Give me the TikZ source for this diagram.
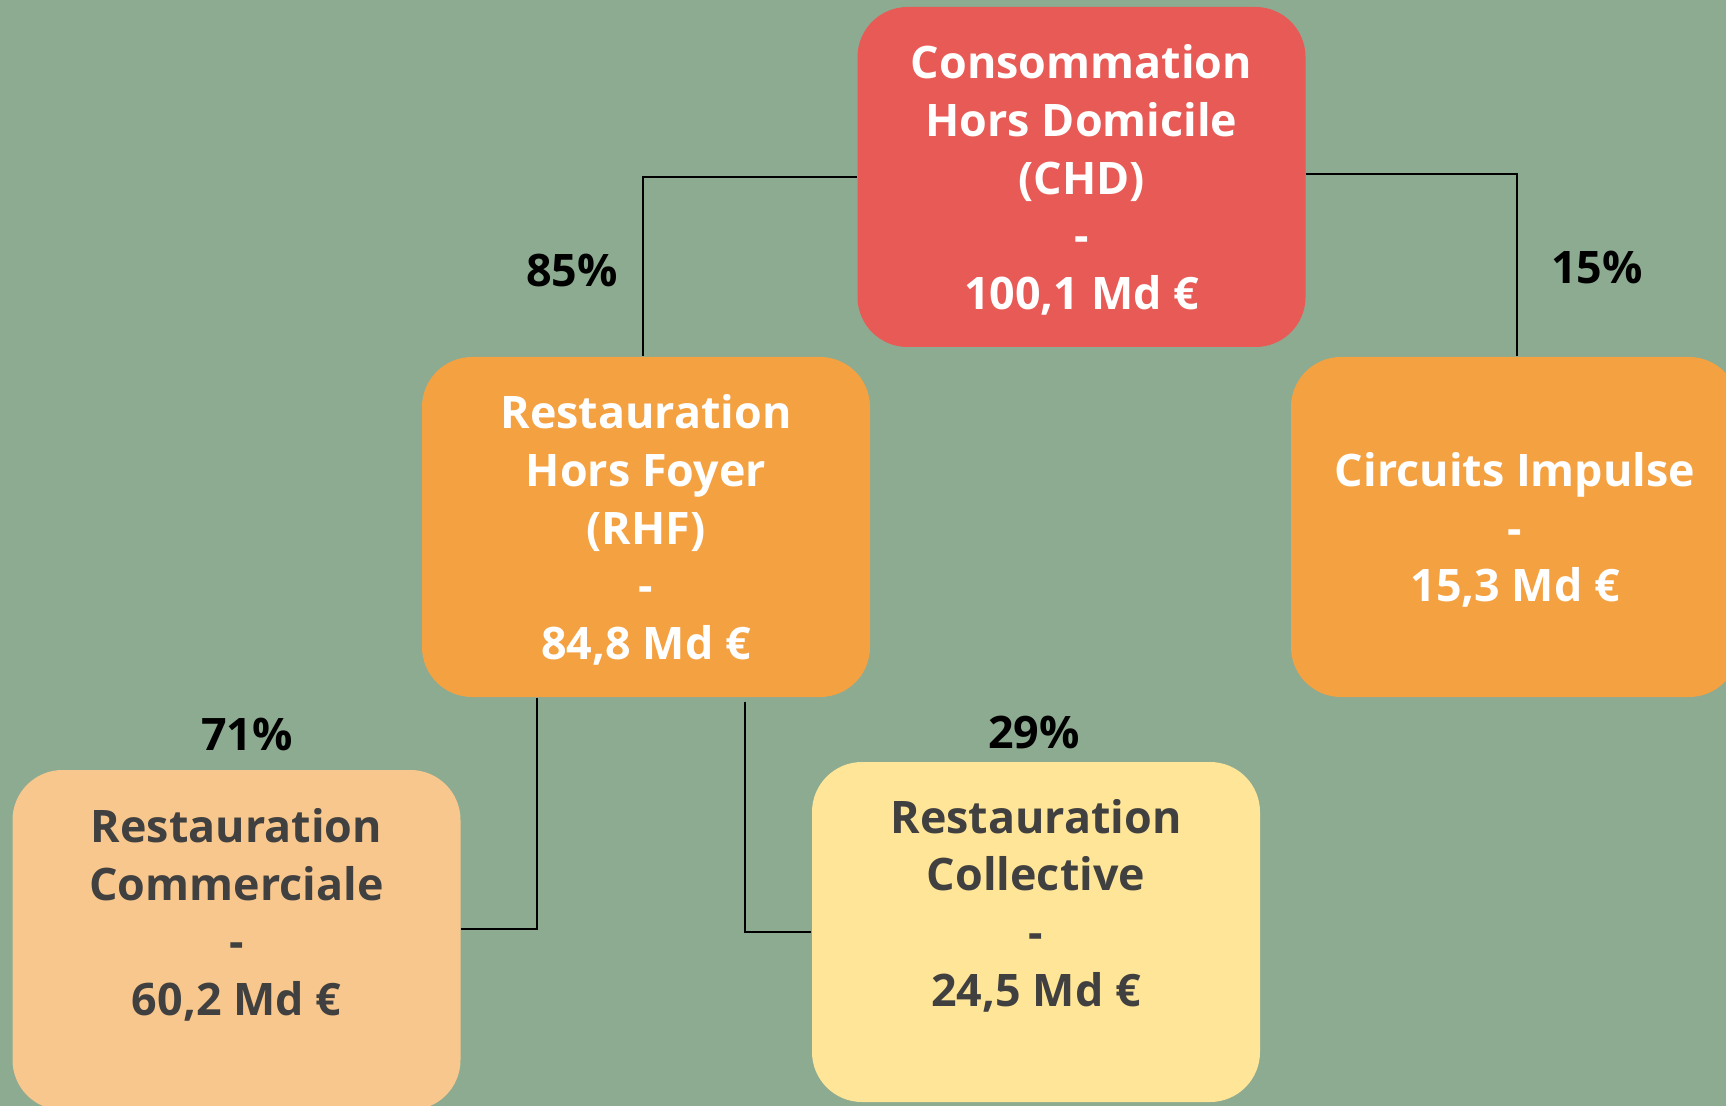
\documentclass[tikz,border=0pt]{standalone}
\usepackage{fontspec}
\setmainfont{Open Sans}
\definecolor{bgc}{HTML}{8DAB91}
\definecolor{redc}{HTML}{E85A55}
\definecolor{orc}{HTML}{F4A142}
\definecolor{peachc}{HTML}{F8C78D}
\definecolor{yelc}{HTML}{FFE597}
\definecolor{darkt}{HTML}{404040}
\begin{document}
\begin{tikzpicture}[x=1cm,y=1cm,
  box/.style={rounded corners=0.5cm, minimum width=4.48cm, minimum height=3.40cm, inner sep=0pt, draw=none},
  txt/.style={font=\fontsize{12.75}{16.4}\selectfont\bfseries, align=center, inner sep=0pt},
  pct/.style={font=\fontsize{12.75}{15}\selectfont\bfseries, text=black, inner sep=0pt},
  conn/.style={draw=black, line width=0.75pt}]
\useasboundingbox (0,0) rectangle (17.26,-11.06);
\fill[bgc] (0,0) rectangle (17.26,-11.06);

\node[box, fill=redc, label={[txt, text=white, yshift=-0.03cm]center:{Consommation\\Hors Domicile\\(CHD)\\-\\100,1 Md €}}] (chd) at (10.815,-1.77) {};
\node[box, fill=orc, label={[txt, text=white, yshift=-0.03cm]center:{Restauration\\Hors Foyer\\(RHF)\\-\\84,8 Md €}}] (rhf) at (6.46,-5.27) {};
\node[box, fill=orc, label={[txt, text=white, yshift=-0.03cm]center:{Circuits Impulse\\-\\15,3 Md €}}] (ci) at (15.15,-5.27) {};
\node[box, fill=peachc, label={[txt, text=darkt, yshift=0.25cm]center:{Restauration\\Commerciale\\-\\60,2 Md €}}] (rc) at (2.365,-9.40) {};
\node[box, fill=yelc, label={[txt, text=darkt, yshift=0.265cm]center:{Restauration\\Collective\\-\\24,5 Md €}}] (rcol) at (10.36,-9.32) {};

\draw[conn] (chd.west) -| ([xshift=-0.03cm]rhf.north);
\draw[conn] ([yshift=0.03cm]chd.east) -| ([xshift=0.02cm]ci.north);
\draw[conn] ([xshift=-1.09cm]rhf.south) |- ([yshift=0.11cm]rc.east);
\draw[conn] ([xshift=0.99cm,yshift=-0.04cm]rhf.south) |- (rcol.west);

\node[pct] (p85) at (5.72,-2.70) {85\%};
\node[pct] (p15) at (15.97,-2.67) {15\%};
\node[pct] (p71) at (2.47,-7.34) {71\%};
\node[pct] (p29) at (10.34,-7.32) {29\%};
\end{tikzpicture}
\end{document}
